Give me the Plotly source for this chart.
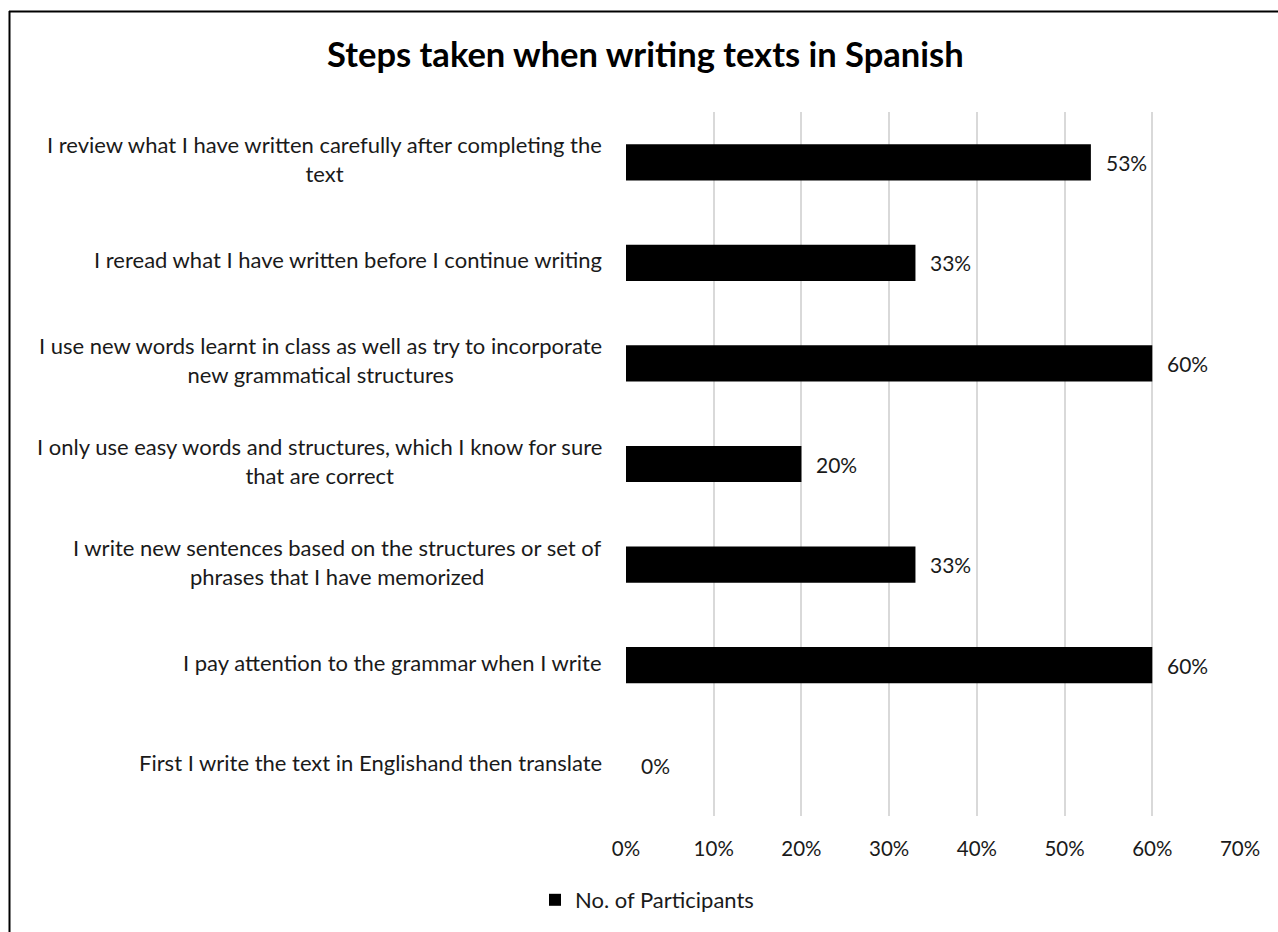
import plotly.graph_objects as go

# Survey statements (top to bottom) and share of participants
categories = [
    "I review what I have written carefully after completing the<br>text",
    "I reread what I have written before I continue writing",
    "I use new words learnt in class as well as try to incorporate<br>new grammatical structures",
    "I only use easy words and structures, which I know for sure<br>that are correct",
    "I write new sentences based on the structures or set of<br>phrases that I have memorized",
    "I pay attention to the grammar when I write",
    "First I write the text in Englishand then translate",
]
shares = [0.53, 0.33, 0.60, 0.20, 0.33, 0.60, 0.00]
tick_values = [0, 0.1, 0.2, 0.3, 0.4, 0.5, 0.6, 0.7]
tick_labels = ["0%", "10%", "20%", "30%", "40%", "50%", "60%", "70%"]
series_name = "No. of Participants"
title_text = "Steps taken when writing texts in Spanish"

FONT = "Lato"
TXT = "#1a1a1a"
W, H = 1278, 932
L, R, T, B = 626, 38, 112, 116

fig = go.Figure()
fig.add_trace(go.Bar(
    x=shares,
    y=list(range(len(categories))),
    orientation="h",
    marker=dict(color="black", line=dict(width=0)),
    width=0.36,
    name=series_name,
    showlegend=True,
    hoverinfo="skip",
))

annotations = []
# value labels to the right of each bar
for i, v in enumerate(shares):
    annotations.append(dict(
        x=v, y=i, xref="x", yref="y", text=f"{round(v * 100)}%",
        showarrow=False, xanchor="left", yanchor="middle", xshift=13,
        font=dict(family=FONT, size=21, color=TXT),
    ))
# category labels, centred within their block and right-aligned to the axis
for i, c in enumerate(categories):
    annotations.append(dict(
        x=0, y=i, xref="paper", yref="y", text=c,
        showarrow=False, xanchor="right", yanchor="middle",
        xshift=-22, yshift=3,
        align="center",
        font=dict(family=FONT, size=22, color=TXT),
    ))

pw = W - L - R
ph = H - T - B
shapes = [
    # frame: top and left edges
    dict(type="line", xref="paper", yref="paper",
         x0=(9 - L) / pw, x1=(W + 5 - L) / pw,
         y0=(H - B - 11.5) / ph, y1=(H - B - 11.5) / ph,
         line=dict(color="black", width=2)),
    dict(type="line", xref="paper", yref="paper",
         x0=(9.5 - L) / pw, x1=(9.5 - L) / pw,
         y0=(H - B - 11) / ph, y1=(H - B - H - 5) / ph,
         line=dict(color="black", width=2)),
]

fig.update_layout(
    width=W, height=H,
    margin=dict(l=L, r=R, t=T, b=B, pad=0),
    paper_bgcolor="white", plot_bgcolor="white",
    font=dict(family=FONT, color=TXT),
    title=dict(text=f"<b>{title_text}</b>", x=0.505, xref="container",
               y=1 - 55 / H, yref="container", yanchor="middle", xanchor="center",
               font=dict(family=FONT, size=34.5, color="black")),
    xaxis=dict(range=[0, 0.7], tickvals=tick_values, ticktext=tick_labels,
               showgrid=True, gridcolor="#d9d9d9", gridwidth=1.5,
               zeroline=False, showline=False, ticks="",
               ticklabelstandoff=18,
               tickfont=dict(family=FONT, size=20.5, color=TXT),
               fixedrange=True),
    yaxis=dict(range=[len(categories) - 0.5, -0.5], showticklabels=False,
               showgrid=False, zeroline=False, showline=False, ticks=""),
    legend=dict(orientation="h", x=535 / W, xref="container", xanchor="left",
                y=1 - 900 / H, yref="container", yanchor="middle",
                font=dict(family=FONT, size=22, color=TXT)),
    annotations=annotations,
    shapes=shapes,
    bargap=0.64,
)

fig.write_html("out.html")
